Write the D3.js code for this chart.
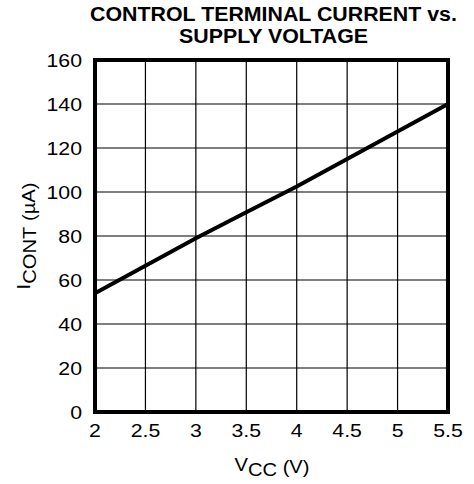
<!DOCTYPE html>
<html>
<head>
<meta charset="utf-8">
<script src="https://cdn.jsdelivr.net/npm/d3@7"></script>
<style>
  html, body { margin: 0; padding: 0; background: #fff; }
  svg text { font-family: "Liberation Sans", Arial, sans-serif; fill: #000; }
</style>
</head>
<body>
<svg id="chart" width="474" height="484"></svg>
<script>
// Data
const vcc = [2, 2.5, 3, 3.5, 4, 4.5, 5, 5.5];
const icont = [54, 66.5, 79, 90.8, 102.5, 115, 127.5, 140];
const xTicks = [2, 2.5, 3, 3.5, 4, 4.5, 5, 5.5];
const xTickLabels = ["2", "2.5", "3", "3.5", "4", "4.5", "5", "5.5"];
const yTicks = [0, 20, 40, 60, 80, 100, 120, 140, 160];
const titleLines = ["CONTROL TERMINAL CURRENT vs.", "SUPPLY VOLTAGE"];

const svg = d3.select("#chart");
const m = { left: 95, right: 448, top: 60, bottom: 412 };
const SX = 1.12;

const x = d3.scaleLinear().domain([2, 5.5]).range([m.left, m.right]);
const y = d3.scaleLinear().domain([0, 160]).range([m.bottom, m.top]);

// grid
svg.append("g").selectAll("line").data(xTicks.slice(1, -1)).join("line")
  .attr("x1", d => x(d)).attr("x2", d => x(d))
  .attr("y1", m.top).attr("y2", m.bottom)
  .attr("stroke", "#000").attr("stroke-width", 1.2);
svg.append("g").selectAll("line").data(yTicks.slice(1, -1)).join("line")
  .attr("y1", d => y(d)).attr("y2", d => y(d))
  .attr("x1", m.left).attr("x2", m.right)
  .attr("stroke", "#000").attr("stroke-width", 1.2);

// data line
const line = d3.line().x((d, i) => x(vcc[i])).y(d => y(d));
svg.append("path").datum(icont)
  .attr("d", line).attr("fill", "none")
  .attr("stroke", "#000").attr("stroke-width", 4);

// frame
svg.append("rect")
  .attr("x", m.left).attr("y", m.top)
  .attr("width", m.right - m.left).attr("height", m.bottom - m.top)
  .attr("fill", "none").attr("stroke", "#000").attr("stroke-width", 4);

// tick labels
svg.append("g").selectAll("text").data(yTicks).join("text")
  .attr("transform", d => `translate(82,${y(d) + 7}) scale(${SX},1)`)
  .attr("text-anchor", "end").attr("font-size", 19)
  .text(d => d);
svg.append("g").selectAll("text").data(xTicks).join("text")
  .attr("transform", d => `translate(${x(d)},437) scale(${SX},1)`)
  .attr("text-anchor", "middle").attr("font-size", 19)
  .text((d, i) => xTickLabels[i]);

// title
svg.append("g").selectAll("text").data(titleLines).join("text")
  .attr("transform", (d, i) => `translate(273.5,${21 + i * 22}) scale(1.095,1)`)
  .attr("text-anchor", "middle").attr("font-size", 19.5).attr("font-weight", "bold")
  .text(d => d);

// x-axis label
const xl = svg.append("text")
  .attr("transform", `translate(272,471) scale(${SX},1)`)
  .attr("text-anchor", "middle").attr("font-size", 18);
xl.append("tspan").text("V");
xl.append("tspan").attr("dy", 5).text("CC");
xl.append("tspan").attr("dy", -3).text(" (V)");

// y-axis label
const yl = svg.append("text")
  .attr("transform", `translate(30,236) rotate(-90) scale(${SX},1)`)
  .attr("text-anchor", "middle").attr("font-size", 18);
yl.append("tspan").text("I");
yl.append("tspan").attr("dy", 6).text("CONT");
yl.append("tspan").attr("dy", -1).text(" (µA)");
</script>
</body>
</html>
